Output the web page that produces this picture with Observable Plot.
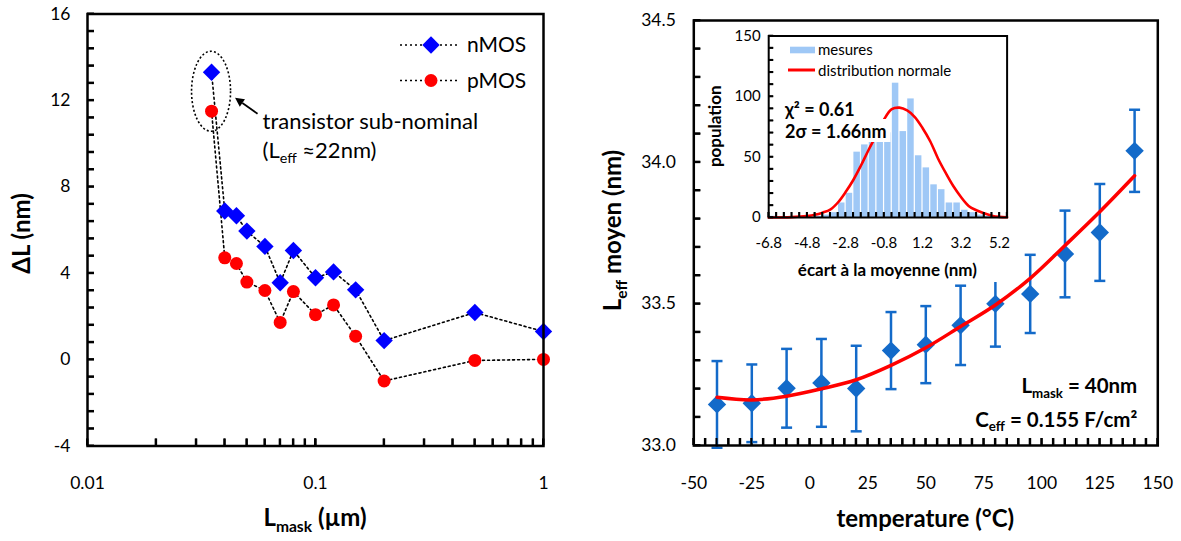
<!DOCTYPE html>
<html>
<head>
<meta charset="utf-8">
<script src="https://cdn.jsdelivr.net/npm/d3@7"></script>
<script src="https://cdn.jsdelivr.net/npm/@observablehq/plot@0.6"></script>
<style>
  html, body { margin: 0; padding: 0; background: #fff; }
  #root { position: relative; width: 1181px; height: 541px; overflow: hidden; background: #fff; }
  #root > svg { position: absolute; }
</style>
</head>
<body>
<div id="root"></div>
<script>
// ---------------- DATA ----------------
// Left panel: ΔL vs Lmask
const Lmask   = [0.035, 0.04, 0.045, 0.05, 0.06, 0.07, 0.08, 0.1, 0.12, 0.15, 0.2, 0.5, 1];
const dL_nMOS = [13.3, 6.88, 6.66, 5.95, 5.24, 3.56, 5.05, 3.79, 4.06, 3.23, 0.88, 2.18, 1.3];
const dL_pMOS = [11.5, 4.71, 4.45, 3.59, 3.2, 1.72, 3.15, 2.08, 2.53, 1.08, -0.99, -0.04, 0.01];
const leftYTicks = [-4, 0, 4, 8, 12, 16];
const leftXTicks = [0.01, 0.1, 1];

// Right panel: Leff moyen vs temperature
const temperature = [-40, -25, -10, 5, 20, 35, 50, 65, 80, 95, 110, 125, 140];
const LeffMean    = [33.145, 33.149, 33.202, 33.221, 33.201, 33.335, 33.356, 33.424, 33.5, 33.535, 33.676, 33.752, 34.04];
const LeffErr     = [0.153, 0.137, 0.139, 0.155, 0.151, 0.136, 0.136, 0.14, 0.151, 0.138, 0.153, 0.171, 0.145];
const LeffFit     = [33.17, 33.161, 33.174, 33.2, 33.232, 33.283, 33.345, 33.42, 33.496, 33.59, 33.706, 33.825, 33.952];
const rightYTicks = [33.0, 33.5, 34.0, 34.5];
const rightXTicks = [-50, -25, 0, 25, 50, 75, 100, 125, 150];

// Inset: histogram of deviations
const binEdges = [-6.8, -6.4, -6.0, -5.6, -5.2, -4.8, -4.4, -4.0, -3.6, -3.2, -2.8, -2.4, -2.0, -1.6, -1.2, -0.8,
                  -0.4, 0.0, 0.4, 0.8, 1.2, 1.6, 2.0, 2.4, 2.8, 3.2, 3.6, 4.0, 4.4, 4.8, 5.2, 5.6];
const binCounts = [1, 0, 0, 0, 0, 0, 1, 2, 4, 12, 20, 54, 60, 70, 72, 70, 111, 71, 98, 51, 41, 27, 23, 12, 12, 6, 4, 2, 1, 0, 0];
const normX = [-6.8, -5.6, -4.8, -4.4, -4.0, -3.6, -3.2, -2.8, -2.4, -2.0, -1.6, -1.2, -0.8, -0.4, 0.0,
               0.4, 0.8, 1.2, 1.6, 2.0, 2.4, 2.8, 3.2, 3.6, 4.0, 4.4, 4.8, 5.2, 5.6];
const normY = [0, 0.3, 1.2, 2.2, 4, 6.5, 12.4, 21, 31, 43, 56, 68, 81, 89.5, 90.8,
               88.5, 83, 74, 63, 49, 37, 26, 17, 9.6, 6, 3.5, 1.5, 0.5, 0.2];
const insetXTicks = [-6.8, -4.8, -2.8, -0.8, 1.2, 3.2, 5.2];
const insetYTicks = [0, 50, 100, 150];

// ---------------- HELPERS ----------------
const FONT = "Lato, 'Liberation Sans', Arial, sans-serif";
const svgNS = "http://www.w3.org/2000/svg";
const BLUE_L = "#0000ff", RED = "#ff0000", BLUE_R = "#136ac9", HIST = "#9fc8f6";

function el(name, attrs = {}) {
  const e = document.createElementNS(svgNS, name);
  for (const [k, v] of Object.entries(attrs)) e.setAttribute(k, v);
  return e;
}
// text centred (vertically) at cx,cy with optional subscript parts
function richText(parts, {cx, cy, anchor = "middle", size = 20, weight = "normal", rotate = 0, fill = "black", cls}) {
  const t = el("text", {x: cx, y: cy + 0.35 * size, "text-anchor": anchor, "font-size": size,
    "font-weight": weight, "font-family": FONT, fill});
  if (rotate) t.setAttribute("transform", `rotate(${rotate},${cx},${cy})`);
  if (cls) t.setAttribute("class", cls);
  let shift = 0;
  for (const p of parts) {
    const s = el("tspan");
    s.textContent = p.t;
    if (p.sub) {
      s.setAttribute("font-size", size * 0.65);
      const d = 0.22 * size;
      s.setAttribute("dy", d - shift);
      shift = d;
    } else if (shift) {
      s.setAttribute("dy", -shift);
      shift = 0;
    }
    t.appendChild(s);
  }
  return t;
}
function layer(draw) {
  return (index, scales, values, dims) => {
    const g = el("g");
    draw(g, scales, dims);
    return g;
  };
}
// inward tick marks along the left and bottom frame edges, positioned with the plot's own scales
function addInwardTicks(svg, dims, yVals, xVals, len, width) {
  const sx = svg.scale("x"), sy = svg.scale("y");
  const fl = dims.marginLeft, fb = dims.height - dims.marginBottom;
  const g = el("g", {stroke: "black", "stroke-width": width, fill: "none"});
  for (const v of yVals) {
    const y = sy.apply(v);
    g.append(el("line", {x1: fl, x2: fl + len, y1: y, y2: y}));
  }
  for (const v of xVals) {
    const x = sx.apply(v);
    g.append(el("line", {x1: x, x2: x, y1: fb, y2: fb - len}));
  }
  svg.append(g);
}
const diamondSym = {draw(ctx, size) { const r = Math.sqrt(size / Math.PI); ctx.moveTo(0, -r); ctx.lineTo(r, 0); ctx.lineTo(0, r); ctx.lineTo(-r, 0); ctx.closePath(); }};
const capSym = {draw(ctx, size) { const r = Math.sqrt(size / Math.PI); ctx.moveTo(-r, 0); ctx.lineTo(r, 0); }};

const baseStyle = {fontFamily: FONT, fontSize: "17.5px", background: "transparent", overflow: "visible"};

// ---------------- LEFT PANEL ----------------
const L = {width: 600, height: 541, marginLeft: 87, marginRight: 57, marginTop: 13.5, marginBottom: 95.5};
const LW = L.width - L.marginLeft - L.marginRight, LH = L.height - L.marginTop - L.marginBottom;
const tableL = Lmask.map((x, i) => ({x, n: dL_nMOS[i], p: dL_pMOS[i]}));
const leftMinorY = d3.range(-4, 16.001, 0.8);
const leftMinorX = [];
for (const dec of [0.01, 0.1]) for (let k = 1; k <= 10; k++) leftMinorX.push(+(dec * k).toPrecision(3));

const leftPlot = Plot.plot({
  ...L,
  x: {type: "log", domain: [0.01, 1]},
  y: {domain: [-4, 16]},
  style: baseStyle,
  marks: [
    Plot.tickY(leftMinorY, {y: d => d, insetRight: LW - 7, stroke: "black", strokeWidth: 2}),
    Plot.tickX(leftMinorX, {x: d => d, insetTop: LH - 7, stroke: "black", strokeWidth: 2}),
    Plot.axisY({ticks: leftYTicks, tickSize: 0, tickPadding: 17, tickFormat: d => String(d), label: null}),
    Plot.axisX({ticks: leftXTicks, tickSize: 0, tickPadding: 31, tickFormat: d => String(d), label: null}),
    Plot.line(tableL, {x: "x", y: "n", stroke: "black", strokeWidth: 1.6, strokeDasharray: "2,3"}),
    Plot.line(tableL, {x: "x", y: "p", stroke: "black", strokeWidth: 1.6, strokeDasharray: "2,3"}),
    Plot.dot(tableL, {x: "x", y: "n", symbol: diamondSym, r: 8.7, fill: BLUE_L}),
    Plot.dot(tableL, {x: "x", y: "p", r: 6.5, fill: RED}),
    // annotation: ellipse around the sub-nominal transistor + arrow + text
    layer((g, s) => {
      const cx = s.x(Lmask[0]);
      const cy = s.y((dL_nMOS[0] + dL_pMOS[0]) / 2);
      g.append(el("ellipse", {cx, cy, rx: 19.5, ry: 40, fill: "none", stroke: "black", "stroke-width": 1.6, "stroke-dasharray": "2,2.2"}));
      const tail = [cx + 46.5, cy + 22.5], tip = [cx + 24, cy + 6.5];
      const dx = tip[0] - tail[0], dy = tip[1] - tail[1], len = Math.hypot(dx, dy);
      const ux = dx / len, uy = dy / len, nx = -uy, ny = ux;
      const bx = tip[0] - ux * 9, by = tip[1] - uy * 9;
      g.append(el("line", {x1: tail[0], y1: tail[1], x2: bx, y2: by, stroke: "black", "stroke-width": 1.8}));
      g.append(el("path", {d: `M${tip[0]},${tip[1]}L${bx + nx * 4.5},${by + ny * 4.5}L${bx - nx * 4.5},${by - ny * 4.5}Z`, fill: "black"}));
      g.append(richText([{t: "transistor sub-nominal"}], {cx: cx + 51.5, cy: cy + 30, anchor: "start", size: 22}));
      g.append(richText([{t: "(L"}, {t: "eff", sub: true}, {t: " ≈22nm)"}], {cx: cx + 51.5, cy: cy + 59.5, anchor: "start", size: 22}));
    }),
    // legend
    layer((g, s, d) => {
      const fr = d.width - d.marginRight, ft = d.marginTop;
      const rows = [{label: "nMOS", y: ft + 31.5, sym: "d"}, {label: "pMOS", y: ft + 67, sym: "c"}];
      for (const r of rows) {
        g.append(el("line", {x1: fr - 143, x2: fr - 83, y1: r.y, y2: r.y, stroke: "black", "stroke-width": 1.6, "stroke-dasharray": "2,3"}));
        const mx = fr - 112;
        if (r.sym === "d") g.append(el("path", {d: `M${mx},${r.y - 8.7}L${mx + 8.7},${r.y}L${mx},${r.y + 8.7}L${mx - 8.7},${r.y}Z`, fill: BLUE_L}));
        else g.append(el("circle", {cx: mx, cy: r.y, r: 6.5, fill: RED}));
        g.append(richText([{t: r.label}], {cx: fr - 76, cy: r.y, anchor: "start", size: 21}));
      }
    }),
    // axis titles
    layer((g, s, d) => {
      const fx = (d.marginLeft + d.width - d.marginRight) / 2;
      const fy = (d.marginTop + d.height - d.marginBottom) / 2;
      g.append(richText([{t: "ΔL (nm)"}], {cx: 22, cy: fy + 4, size: 24, weight: "bold", rotate: -90}));
      g.append(richText([{t: "L"}, {t: "mask", sub: true}, {t: " (µm)"}], {cx: fx, cy: 518, size: 24, weight: "bold"}));
    }),
    Plot.frame({stroke: "black", strokeWidth: 2.5})
  ]
});
leftPlot.style.left = "0px"; leftPlot.style.top = "0px";

// ---------------- RIGHT PANEL ----------------
const R = {width: 581, height: 541, marginLeft: 93.3, marginRight: 23.7, marginTop: 20, marginBottom: 96};
const RW = R.width - R.marginLeft - R.marginRight, RH = R.height - R.marginTop - R.marginBottom;
const tableR = temperature.map((t, i) => ({t, m: LeffMean[i], lo: LeffMean[i] - LeffErr[i], hi: LeffMean[i] + LeffErr[i], fit: LeffFit[i]}));
const rightMinorY = d3.range(33, 34.5001, 0.1);
const rightMinorX = d3.range(-50, 150.001, 5);

const rightPlot = Plot.plot({
  ...R,
  x: {domain: [-50, 150]},
  y: {domain: [33, 34.5]},
  style: baseStyle,
  marks: [
    Plot.tickY(rightMinorY, {y: d => d, insetRight: RW - 7, stroke: "black", strokeWidth: 2}),
    Plot.tickX(rightMinorX, {x: d => d, insetTop: RH - 7, stroke: "black", strokeWidth: 2}),
    Plot.axisY({ticks: rightYTicks, tickSize: 0, tickPadding: 18, tickFormat: d => d.toFixed(1), label: null}),
    Plot.axisX({ticks: rightXTicks, tickSize: 0, tickPadding: 31, tickFormat: d => String(d), label: null}),
    Plot.ruleX(tableR, {x: "t", y1: "lo", y2: "hi", stroke: BLUE_R, strokeWidth: 2.5}),
    Plot.dot(tableR, {x: "t", y: "hi", symbol: capSym, r: 5.5, stroke: BLUE_R, strokeWidth: 2.5, fill: "none"}),
    Plot.dot(tableR, {x: "t", y: "lo", symbol: capSym, r: 5.5, stroke: BLUE_R, strokeWidth: 2.5, fill: "none"}),
    Plot.dot(tableR, {x: "t", y: "m", symbol: diamondSym, r: 9.2, fill: BLUE_R}),
    Plot.line(tableR, {x: "t", y: "fit", stroke: RED, strokeWidth: 3.5, curve: "catmull-rom"}),
    layer((g, s, d) => {
      const fr = d.width - d.marginRight, fb = d.height - d.marginBottom;
      g.append(richText([{t: "L"}, {t: "mask", sub: true}, {t: " = 40nm"}], {cx: fr - 20, cy: fb - 59, anchor: "end", size: 20.5, weight: "bold"}));
      g.append(richText([{t: "C"}, {t: "eff", sub: true}, {t: " = 0.155 F/cm²"}], {cx: fr - 20, cy: fb - 25.5, anchor: "end", size: 20.5, weight: "bold"}));
      const fx = (d.marginLeft + fr) / 2;
      const fy = (d.marginTop + fb) / 2;
      g.append(richText([{t: "L"}, {t: "eff", sub: true}, {t: " moyen (nm)"}], {cx: 13, cy: fy - 2, size: 24, weight: "bold", rotate: -90}));
      g.append(richText([{t: "temperature (°C)"}], {cx: fx, cy: 519, size: 24, weight: "bold"}));
    }),
    Plot.frame({stroke: "black", strokeWidth: 2.5})
  ]
});
rightPlot.style.left = "600px"; rightPlot.style.top = "0px";

// ---------------- INSET ----------------
const I = {width: 318, height: 260, marginLeft: 66.2, marginRight: 13.4, marginTop: 13.5, marginBottom: 65};
const IW = I.width - I.marginLeft - I.marginRight, IH = I.height - I.marginTop - I.marginBottom;
const histTable = binCounts.map((c, i) => ({x1: binEdges[i], x2: binEdges[i + 1], c}));
const normTable = normX.map((x, i) => ({x, y: normY[i]}));
const insetMinorY = d3.range(0, 150.001, 10);

const inset = Plot.plot({
  ...I,
  x: {domain: [-6.8, 5.6]},
  y: {domain: [0, 150]},
  style: {...baseStyle, background: "white", fontSize: "15px"},
  marks: [
    Plot.rect(histTable, {x1: "x1", x2: "x2", y1: 0, y2: "c", fill: HIST, insetLeft: 0.6, insetRight: 0.6}),
    Plot.line(normTable, {x: "x", y: "y", stroke: RED, strokeWidth: 2.6, curve: "catmull-rom"}),
    layer((g, s, d) => {
      const fl = d.marginLeft, ft = d.marginTop;
      // statistics text (with white box behind)
      g.append(richText([{t: "χ² = 0.61"}], {cx: fl + 16.8, cy: ft + 74.5, anchor: "start", size: 18, weight: "bold", cls: "boxed"}));
      g.append(richText([{t: "2σ = 1.66nm"}], {cx: fl + 16.8, cy: ft + 96.2, anchor: "start", size: 18, weight: "bold", cls: "boxed"}));
      // legend
      g.append(el("rect", {x: fl + 21.8, y: ft + 11.2, width: 25, height: 6.6, fill: HIST}));
      g.append(richText([{t: "mesures"}], {cx: fl + 49.8, cy: ft + 14.5, anchor: "start", size: 15}));
      g.append(el("line", {x1: fl + 19.8, x2: fl + 46.8, y1: ft + 34.5, y2: ft + 34.5, stroke: RED, "stroke-width": 3}));
      g.append(richText([{t: "distribution normale"}], {cx: fl + 49.8, cy: ft + 35.5, anchor: "start", size: 15}));
      // axis titles
      const fx = (fl + d.width - d.marginRight) / 2;
      const fy = (ft + d.height - d.marginBottom) / 2;
      g.append(richText([{t: "population"}], {cx: 13, cy: fy, size: 17, weight: "bold", rotate: -90}));
      g.append(richText([{t: "écart à la moyenne (nm)"}], {cx: fx, cy: 248, size: 17, weight: "bold"}));
    }),
    Plot.tickY(insetMinorY, {y: d => d, insetRight: IW - 5, stroke: "black", strokeWidth: 1.6}),
    Plot.tickX(binEdges, {x: d => d, insetTop: IH - 5, stroke: "black", strokeWidth: 1.6}),
    Plot.axisY({ticks: insetYTicks, tickSize: 0, tickPadding: 8, tickFormat: d => String(d), label: null}),
    Plot.axisX({ticks: insetXTicks, tickSize: 0, tickPadding: 19.5, tickFormat: d => d.toFixed(1), label: null}),
    Plot.frame({stroke: "black", strokeWidth: 2})
  ]
});
inset.style.left = "702px"; inset.style.top = "22px";

const root = document.getElementById("root");
root.append(leftPlot, rightPlot, inset);

// inward minor ticks drawn on top, from each plot's own scales
addInwardTicks(leftPlot, L, leftMinorY, leftMinorX, 7, 2);
addInwardTicks(rightPlot, R, rightMinorY, rightMinorX, 7, 2);
addInwardTicks(inset, I, insetMinorY, binEdges, 5, 1.6);

// white boxes behind the boxed statistic texts
for (const t of inset.querySelectorAll("text.boxed")) {
  const b = t.getBBox();
  const r = el("rect", {x: b.x - 2, y: b.y - 1, width: b.width + 6, height: b.height + 1, fill: "white"});
  t.parentNode.insertBefore(r, t);
}
</script>
</body>
</html>
